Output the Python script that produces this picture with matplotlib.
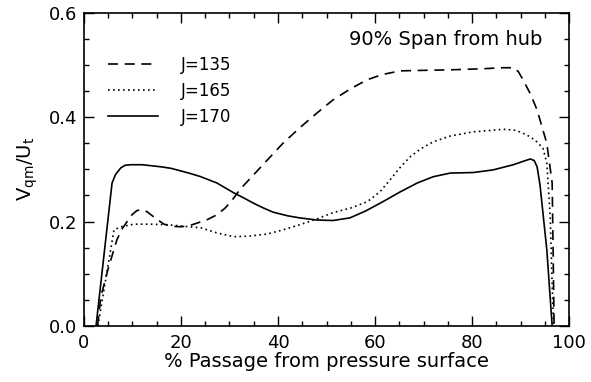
import matplotlib
matplotlib.use("Agg")
import matplotlib.pyplot as plt
from matplotlib.ticker import MultipleLocator

plt.rcParams['font.family'] = ['DejaVu Sans']

# J=135 (dashed)
x135 = [2.8, 3.5, 5.0, 6.8, 7.8, 8.9, 9.9, 10.9, 12.0, 13.0, 14.8, 16.5,
        18.0, 20.0, 21.7, 23.3, 25.5, 27.4, 29.0, 30.3, 32.2, 35.0, 38.0,
        41.0, 44.5, 48.0, 51.3, 55.0, 58.4, 61.5, 65.2, 70.0, 75.5, 82.0,
        86.4, 88.5, 89.5, 90.5, 92.0, 93.4, 95.4, 96.5, 96.7, 96.9]
y135 = [0.0, 0.056, 0.110, 0.165, 0.185, 0.200, 0.213, 0.221, 0.223, 0.219,
        0.206, 0.195, 0.191, 0.190, 0.192, 0.197, 0.204, 0.213, 0.225, 0.238,
        0.262, 0.290, 0.320, 0.350, 0.380, 0.408, 0.433, 0.455, 0.472, 0.482,
        0.489, 0.490, 0.491, 0.493, 0.495, 0.495, 0.488, 0.472, 0.445, 0.414,
        0.350, 0.274, 0.146, 0.0]

# J=165 (dotted)
x165 = [2.9, 4.5, 6.2, 7.6, 10.3, 13.5, 17.1, 20.5, 24.1, 27.5, 30.9, 34.0,
        37.7, 41.0, 44.5, 48.0, 51.3, 55.0, 58.4, 61.0, 63.1, 65.0, 67.2,
        69.5, 72.0, 75.5, 80.2, 86.4, 89.0, 91.3, 93.0, 94.6, 95.4, 96.1,
        96.5, 96.8]
y165 = [0.0, 0.090, 0.184, 0.190, 0.195, 0.195, 0.194, 0.191, 0.188, 0.178,
        0.171, 0.172, 0.176, 0.184, 0.194, 0.205, 0.217, 0.226, 0.238, 0.257,
        0.280, 0.302, 0.324, 0.340, 0.353, 0.364, 0.372, 0.377, 0.375, 0.366,
        0.356, 0.341, 0.312, 0.210, 0.080, 0.0]

# J=170 (solid)
x170 = [2.5, 5.8, 6.5, 7.6, 8.5, 9.7, 12.0, 15.9, 18.0, 20.0, 22.0, 24.1,
        27.4, 30.9, 33.0, 35.0, 37.0, 39.0, 42.0, 44.5, 48.0, 51.3, 54.8,
        58.0, 61.6, 65.0, 68.7, 72.0, 75.5, 80.2, 84.3, 88.5, 91.0, 92.0,
        92.8, 93.4, 94.0, 95.4, 96.5]
y170 = [0.0, 0.274, 0.290, 0.303, 0.308, 0.309, 0.309, 0.305, 0.302, 0.297,
        0.292, 0.286, 0.274, 0.255, 0.245, 0.235, 0.226, 0.218, 0.211, 0.207,
        0.203, 0.202, 0.207, 0.220, 0.238, 0.256, 0.274, 0.286, 0.293, 0.294,
        0.299, 0.309, 0.317, 0.320, 0.317, 0.305, 0.270, 0.146, 0.0]

fig = plt.figure(figsize=(5.91, 3.82), dpi=100)
ax = fig.add_axes([0.142, 0.147, 0.821, 0.819])

ax.plot(x135, y135, color='black', lw=1.2, ls=(0, (6, 4)), label='J=135')
ax.plot(x165, y165, color='black', lw=1.2, ls=(0, (1, 2)), label='J=165')
ax.plot(x170, y170, color='black', lw=1.2, ls='-', label='J=170')

ax.set_xlim(0, 100)
ax.set_ylim(0, 0.6)
ax.xaxis.set_major_locator(MultipleLocator(20))
ax.xaxis.set_minor_locator(MultipleLocator(5))
ax.yaxis.set_major_locator(MultipleLocator(0.2))
ax.yaxis.set_minor_locator(MultipleLocator(0.05))
ax.yaxis.set_major_formatter(plt.FormatStrFormatter('%.1f'))
ax.tick_params(which='both', direction='in', top=True, right=True,
               labelsize=13, width=1)
ax.tick_params(which='major', length=7)
ax.tick_params(axis='x', which='major', pad=6)
ax.tick_params(axis='y', which='major', pad=5)
ax.tick_params(which='minor', length=3.5)
for s in ax.spines.values():
    s.set_linewidth(1.2)

ax.set_xlabel('% Passage from pressure surface', fontsize=14, labelpad=0)
ax.set_ylabel(r'V$_{\mathrm{qm}}$/U$_{\mathrm{t}}$', fontsize=14, labelpad=6)

ax.text(0.945, 0.915, '90% Span from hub', transform=ax.transAxes,
        ha='right', va='center', fontsize=14)

ax.legend(loc='upper left', bbox_to_anchor=(0.035, 0.885), frameon=False,
          fontsize=12, handlelength=3.0, handletextpad=1.4,
          labelspacing=0.5, borderaxespad=0)

fig.savefig('out.png', dpi=100)
